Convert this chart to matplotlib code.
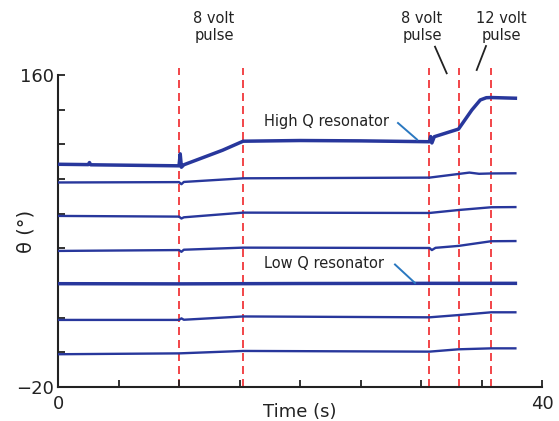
import matplotlib
matplotlib.use("Agg")
import matplotlib.pyplot as plt

# Traces (time in s, angle in degrees)
t_highq = [0, 2.5, 2.6, 2.7, 10.0, 10.1, 10.2, 10.4, 13.6, 15.3, 20, 25, 30.7, 30.8, 30.9, 31.1, 33.1, 34.2, 34.9, 35.4, 35.8, 37.8]
v_highq = [108.5, 108.3, 109.5, 108.2, 107.6, 114.5, 106.8, 108.2, 116.6, 121.8, 122.2, 122.0, 121.5, 124.5, 120.8, 124.4, 128.8, 139.8, 145.6, 146.9, 147.0, 146.6]

t_tr2 = [0, 10.0, 10.2, 10.4, 15.3, 30.7, 33.1, 34.0, 34.8, 35.8, 37.8]
v_tr2 = [98.0, 98.2, 97.0, 98.3, 100.4, 100.8, 102.9, 103.7, 103.0, 103.2, 103.3]

t_tr3 = [0, 10.0, 10.2, 10.4, 15.3, 30.7, 33.1, 35.8, 37.8]
v_tr3 = [78.7, 78.3, 77.2, 77.9, 80.6, 80.4, 82.1, 83.7, 83.8]

t_tr4 = [0, 10.0, 10.2, 10.4, 15.3, 30.7, 30.9, 31.2, 33.1, 35.8, 37.8]
v_tr4 = [58.5, 59.0, 58.0, 59.2, 60.4, 60.2, 59.0, 60.3, 61.4, 64.1, 64.2]

t_lowq = [0, 10, 20, 30.7, 37.8]
v_lowq = [39.6, 39.5, 39.7, 39.8, 39.8]

t_tr6 = [0, 10.0, 10.2, 10.4, 15.3, 30.7, 33.1, 35.8, 37.8]
v_tr6 = [18.7, 18.7, 19.6, 18.8, 20.7, 20.2, 21.5, 23.1, 23.1]

t_tr7 = [0, 10.0, 15.3, 30.7, 33.1, 35.8, 37.8]
v_tr7 = [-1.1, -0.6, 0.8, 0.4, 1.75, 2.3, 2.3]

pulse_times = [10.0, 15.3, 30.7, 33.1, 35.8]

trace_color = '#28379c'
pulse_color = '#f0262a'

fig = plt.figure(figsize=(5.59, 4.21), dpi=100)
ax = fig.add_axes([58 / 559, 34 / 421, 484 / 559, 312 / 421])

for t in pulse_times:
    ax.plot([t, t], [-20, 164], color=pulse_color, lw=1.2,
            dashes=(4.8, 3.0), clip_on=False, zorder=1)

thin = [(t_tr2, v_tr2), (t_tr3, v_tr3), (t_tr4, v_tr4), (t_tr6, v_tr6), (t_tr7, v_tr7)]
for t, v in thin:
    ax.plot(t, v, color=trace_color, lw=1.7, zorder=3)
ax.plot(t_highq, v_highq, color=trace_color, lw=2.5, zorder=3)
ax.plot(t_lowq, v_lowq, color=trace_color, lw=2.5, zorder=3)

ax.set_xlim(0, 40)
ax.set_ylim(-20, 160)
ax.set_xticks(range(0, 41, 5))
ax.set_xticklabels(['0', '', '', '', '', '', '', '', '40'])
ax.set_yticks(range(-20, 161, 20))
ax.set_yticklabels(['\u221220'] + [''] * 8 + ['160'])
ax.tick_params(direction='in', length=5, width=1.3, labelsize=13, colors='#222222')
ax.tick_params(axis='x', pad=6)
ax.tick_params(axis='y', pad=3)
for s in ['top', 'right']:
    ax.spines[s].set_visible(False)
for s in ['left', 'bottom']:
    ax.spines[s].set_linewidth(1.5)
    ax.spines[s].set_color('#222222')

ax.set_xlabel('Time (s)', fontsize=13, color='#222222')
ax.xaxis.set_label_coords(0.5, -0.05)
ax.set_ylabel('\u03b8 (\u00b0)', fontsize=14, color='#222222')
ax.yaxis.set_label_coords(-0.046, 0.5)

# annotations
txt = dict(fontsize=10.5, color='#222222', ha='center', va='center',
           linespacing=1.15)
fig.text(214 / 559, 1 - 27 / 421, '8 volt\npulse', **txt)
fig.text(422 / 559, 1 - 27 / 421, '8 volt\npulse', **txt)
fig.text(501 / 559, 1 - 27 / 421, '12 volt\npulse', **txt)
fig.add_artist(plt.Line2D([435 / 559, 446.7 / 559], [1 - 46.7 / 421, 1 - 73.3 / 421],
                          color='#222222', lw=1.3))
fig.add_artist(plt.Line2D([486 / 559, 476.7 / 559], [1 - 46 / 421, 1 - 70 / 421],
                          color='#222222', lw=1.3))

fig.text(326 / 559, 1 - 121 / 421, 'High Q resonator', fontsize=10.5,
         color='#222222', ha='center', va='center')
fig.add_artist(plt.Line2D([398 / 559, 417 / 559], [1 - 123 / 421, 1 - 139.5 / 421],
                          color='#2a78c0', lw=1.4))
fig.text(324 / 559, 1 - 264 / 421, 'Low Q resonator', fontsize=10.5,
         color='#222222', ha='center', va='center')
fig.add_artist(plt.Line2D([395 / 559, 415 / 559], [1 - 264.5 / 421, 1 - 283 / 421],
                          color='#2a78c0', lw=1.4))

fig.savefig('out.png', dpi=100)
